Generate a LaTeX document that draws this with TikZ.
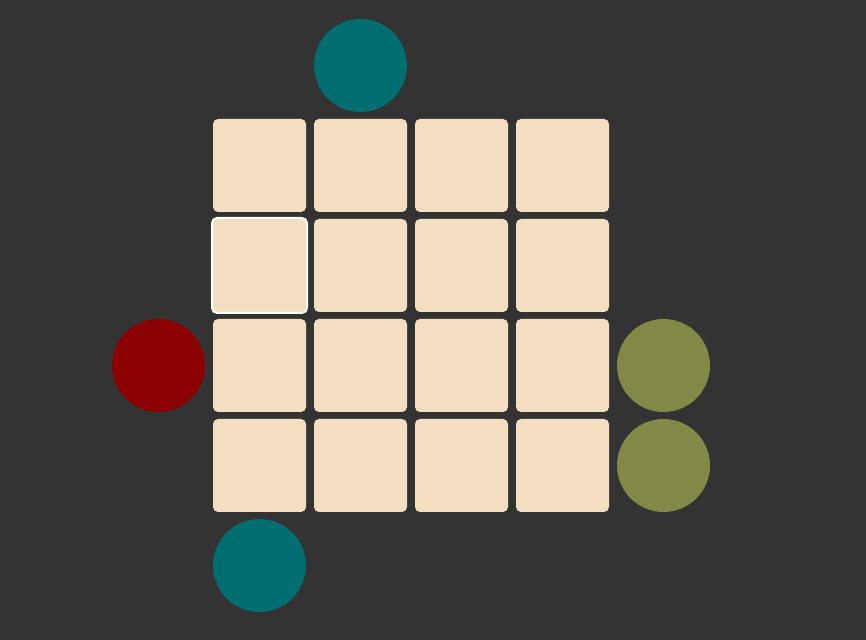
\documentclass[tikz,border=0pt]{standalone}
\usepackage{xcolor}
\usepackage{tikz}
\usetikzlibrary{shapes.geometric, arrows}
\definecolor{board}{HTML}{333333}
\definecolor{wheatish}{HTML}{F4DEC2}
\definecolor{tealdot}{HTML}{006D70}
\definecolor{reddot}{HTML}{8B0000}
\definecolor{olivedot}{HTML}{828845}
\tikzstyle{cell} = [rectangle, rounded corners=0.1cm, minimum width=1.86cm, minimum height=1.86cm, inner sep=0pt, fill=wheatish]
\tikzstyle{sel} = [cell, minimum width=1.9cm, minimum height=1.9cm, draw=white, line width=0.04cm]
\tikzstyle{dot} = [circle, minimum size=1.86cm, inner sep=0pt]
\begin{document}
\begin{tikzpicture}[node distance=2.02cm]

\fill [board] (0,0) rectangle (17.32,-12.8);
\useasboundingbox (0,0) rectangle (17.32,-12.8);

\node (c11) [cell] at (5.19,-3.31) {};
\node (c12) [cell, right of=c11] {};
\node (c13) [cell, right of=c12] {};
\node (c14) [cell, right of=c13] {};

\node (c21) [sel, below of=c11, yshift=0.02cm] {};
\node (c22) [cell, right of=c21] {};
\node (c23) [cell, right of=c22] {};
\node (c24) [cell, right of=c23] {};

\node (c31) [cell, below of=c21, yshift=0.02cm] {};
\node (c32) [cell, right of=c31] {};
\node (c33) [cell, right of=c32] {};
\node (c34) [cell, right of=c33] {};

\node (c41) [cell, below of=c31, yshift=0.02cm] {};
\node (c42) [cell, right of=c41] {};
\node (c43) [cell, right of=c42] {};
\node (c44) [cell, right of=c43] {};

\node (top) [dot, fill=tealdot, above of=c12, yshift=-0.02cm] {};
\node (bot) [dot, fill=tealdot, below of=c41, yshift=0.02cm] {};
\node (left) [dot, fill=reddot, left of=c31] {};
\node (right1) [dot, fill=olivedot, right of=c34] {};
\node (right2) [dot, fill=olivedot, right of=c44] {};

\end{tikzpicture}
\end{document}
